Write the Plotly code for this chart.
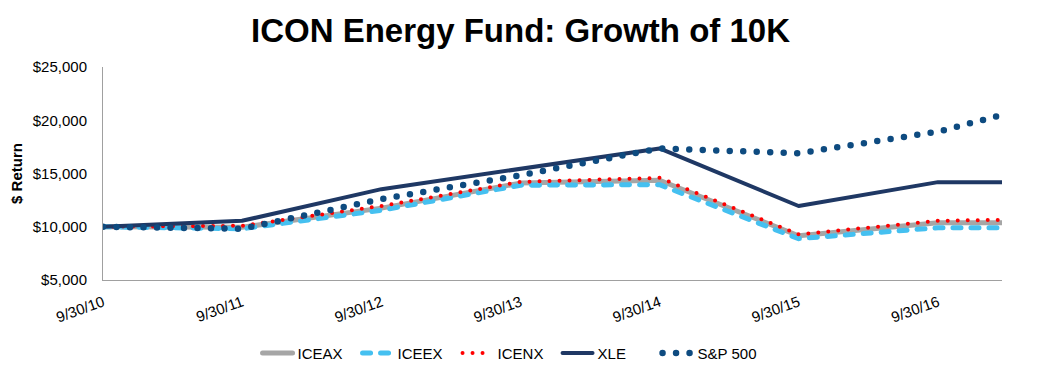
import plotly.graph_objects as go

dates = ["2010-09-30", "2011-09-30", "2012-09-30", "2013-09-30",
         "2014-09-30", "2015-09-30", "2016-09-30", "2017-03-17"]
tick_dates = ["2010-09-30", "2011-09-30", "2012-09-30", "2013-09-30",
              "2014-09-30", "2015-09-30", "2016-09-30"]
tick_labels = ["9/30/10", "9/30/11", "9/30/12", "9/30/13",
               "9/30/14", "9/30/15", "9/30/16"]

iceax = [10000, 9950, 11750, 14100, 14370, 9160, 10370, 10370]
iceex = [10000, 9810, 11550, 13900, 13950, 8880, 9910, 9910]
icenx = [10000, 10090, 11950, 14210, 14590, 9280, 10560, 10650]
xle = [10000, 10560, 13530, 15450, 17350, 11950, 14190, 14190]
sp500 = [10000, 9810, 12600, 14840, 17350, 16900, 18930, 20500]

y_ticks = [5000, 10000, 15000, 20000, 25000]

fig = go.Figure()
fig.add_trace(go.Scatter(x=dates, y=iceax, name="ICEAX", mode="lines",
                         line=dict(color="#A6A6A6", width=5)))
fig.add_trace(go.Scatter(x=dates, y=iceex, name="ICEEX", mode="lines",
                         line=dict(color="#45C0F0", width=5, dash="8px,10px")))
fig.add_trace(go.Scatter(x=dates, y=icenx, name="ICENX", mode="lines",
                         line=dict(color="#FF0000", width=4, dash="0px,10px")))
fig.add_trace(go.Scatter(x=dates, y=xle, name="XLE", mode="lines",
                         line=dict(color="#1F3864", width=4)))
fig.add_trace(go.Scatter(x=dates, y=sp500, name="S&P 500", mode="lines",
                         line=dict(color="#0E4B80", width=6.5, dash="0px,13.5px")))

fig.update_layout(
    width=1041, height=375,
    margin=dict(l=103, r=39, t=67, b=95, autoexpand=False),
    paper_bgcolor="white", plot_bgcolor="white",
    font=dict(family="Liberation Sans, Arial, sans-serif", color="#000000", size=15),
    title=dict(text="<b>ICON Energy Fund: Growth of 10K</b>", x=0.5, xanchor="center",
               y=0.92, yanchor="middle",
               font=dict(size=33, family="Liberation Sans, Arial, sans-serif", color="#000000")),
    showlegend=True,
    legend=dict(orientation="h", x=0.45, xanchor="center",
                yref="container", y=0.058, yanchor="middle",
                font=dict(size=15), traceorder="normal", entrywidth=55),
    xaxis=dict(type="date", range=["2010-09-30", "2017-03-17"],
               tickvals=tick_dates, ticktext=tick_labels, tickangle=-20,
               showgrid=False, zeroline=False, showline=True, linecolor="#A0A0A0",
               linewidth=1, ticks="", ticklabelstandoff=7, tickfont=dict(size=15),
               automargin=False),
    yaxis=dict(range=[5000, 25000], tickvals=y_ticks, tickformat="$,d",
               showgrid=False, zeroline=False, showline=True, linecolor="#A0A0A0",
               linewidth=1, ticks="", ticklabelstandoff=12, tickfont=dict(size=15),
               automargin=False,
               title=dict(text="<b>$ Return</b>", font=dict(size=15), standoff=6)),
)

post = ("var s=document.createElement('style');"
        "s.innerHTML='body{margin:0 !important;} .scatterlayer .js-line, .legend .js-line{stroke-linecap:round;stroke-linejoin:round}';"
        "document.head.appendChild(s);")
fig.write_html("out.html", post_script=post, config={"displayModeBar": False})
